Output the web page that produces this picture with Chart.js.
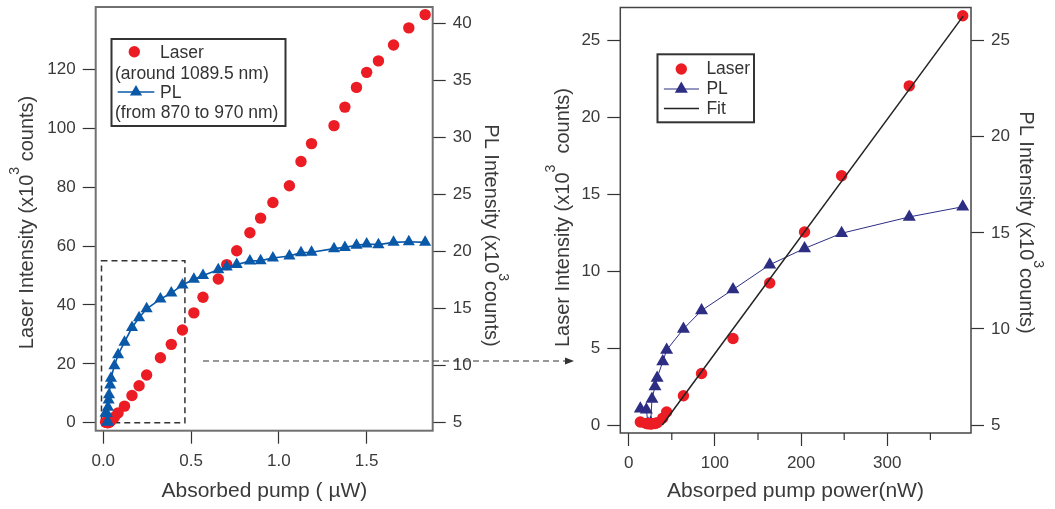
<!DOCTYPE html>
<html>
<head>
<meta charset="utf-8">
<script src="https://cdn.jsdelivr.net/npm/chart.js@4.4.1/dist/chart.umd.min.js"></script>
<style>
  html, body { margin: 0; padding: 0; background: #fff; }
  #wrap { position: relative; width: 1055px; height: 509px; overflow: hidden; }
  #left { position: absolute; left: 0; top: 0; }
  #right { position: absolute; left: 530px; top: 0; }
  #overlay { position: absolute; left: 0; top: 0; pointer-events: none; }
  #overlay text { font-family: "Liberation Sans", Arial, sans-serif; font-size: 17.5px; fill: #333; }
</style>
</head>
<body>
<div id="wrap">
  <canvas id="left" width="530" height="509"></canvas>
  <canvas id="right" width="525" height="509"></canvas>
  <svg id="overlay" width="1055" height="509">
    <!-- left legend -->
    <rect x="111.5" y="39" width="174" height="87" fill="#fff" stroke="#333" stroke-width="2"/>
    <circle cx="134.3" cy="51.7" r="5.7" fill="#ec1c24"/>
    <text x="160" y="58">Laser</text>
    <text x="115" y="78.5">(around 1089.5 nm)</text>
    <line x1="117.7" y1="92" x2="154.3" y2="92" stroke="#0a58a8" stroke-width="1.5"/>
    <polygon points="136,85 142.1,95.5 129.9,95.5" fill="#0a58a8"/>
    <text x="160" y="98">PL</text>
    <text x="115" y="118">(from 870 to 970 nm)</text>
    <!-- right legend -->
    <rect x="657.5" y="54.3" width="96.5" height="68" fill="#fff" stroke="#333" stroke-width="2"/>
    <circle cx="681.3" cy="69" r="5.7" fill="#ec1c24"/>
    <text x="706.4" y="74">Laser</text>
    <line x1="663.9" y1="89" x2="699" y2="89" stroke="#2d2e83" stroke-width="1"/>
    <polygon points="681.3,81.5 687.8,92.75 674.8,92.75" fill="#2d2e83"/>
    <text x="706.4" y="94">PL</text>
    <line x1="663.9" y1="108.5" x2="699" y2="108.5" stroke="#222" stroke-width="1.5"/>
    <text x="706.4" y="114">Fit</text>
    <!-- zoom arrow between the panels -->
    <line x1="203" y1="361" x2="566" y2="361" stroke="#333" stroke-width="1.2" stroke-dasharray="6 4"/>
    <polygon points="565,357.5 574,361 565,364.5" fill="#333"/>
  </svg>
</div>
<script>
// low-power part of the run, right panel (pump in nW, intensities in 10^3 counts)
const lowPump  = [13.5, 20.5, 22.5, 25.5, 27, 30.5, 33, 39.5, 44, 63.5, 84.5, 121, 163.6, 204, 247, 325.5, 387.5];
const lowLaser = [0.2, 0.1, 0.08, 0.07, 0.08, 0.1, 0.15, 0.45, 0.85, 1.9, 3.35, 5.63, 9.24, 12.56, 16.21, 22.06, 26.62];
const lowPL    = [5.85, 5.8, 5.05, 5.1, 6.35, 7.0, 7.45, 8.3, 8.9, 10.0, 10.96, 12.05, 13.34, 14.19, 14.98, 15.83, 16.36];

// rest of the run, left panel only (pump in µW)
const highPump  = [0.451, 0.516, 0.568, 0.655, 0.703, 0.76, 0.835, 0.896, 0.966, 1.06, 1.126, 1.186, 1.314, 1.376, 1.442, 1.5, 1.567, 1.653, 1.74, 1.833];
const highLaser = [31.5, 37.3, 42.6, 48.8, 53.7, 58.4, 64.5, 69.5, 74.8, 80.5, 88.7, 94.8, 100.9, 107.2, 113.9, 119.0, 122.9, 128.3, 134.1, 138.6];
const highPL    = [17.07, 17.57, 17.89, 18.41, 18.64, 18.85, 19.17, 19.2, 19.43, 19.6, 19.9, 19.93, 20.25, 20.36, 20.54, 20.65, 20.6, 20.8, 20.86, 20.8];

// linear fit above threshold (right panel)
const fitPump  = [39, 388];
const fitLaser = [0, 26.6];

// ticks
const leftPumpTicks   = [0, 0.5, 1, 1.5];
const leftPumpLabels  = ['0.0', '0.5', '1.0', '1.5'];
const leftLaserTicks  = [0, 20, 40, 60, 80, 100, 120];
const leftLaserLabels = ['0', '20', '40', '60', '80', '100', '120'];
const leftPLTicks     = [5, 10, 15, 20, 25, 30, 35, 40];
const leftPLLabels    = ['5', '10', '15', '20', '25', '30', '35', '40'];
const rightPumpTicks   = [0, 100, 200, 300];
const rightPumpLabels  = ['0', '100', '200', '300'];
const rightPumpMinor   = [50, 150, 250, 350];
const rightLaserTicks  = [0, 5, 10, 15, 20, 25];
const rightLaserLabels = ['0', '5', '10', '15', '20', '25'];
const rightPLTicks     = [5, 10, 15, 20, 25];
const rightPLLabels    = ['5', '10', '15', '20', '25'];

// region of the left panel that the right panel enlarges
const zoomBoxPump  = [-0.01, 0.465];
const zoomBoxLaser = [0, 55];

const FONT = '"Liberation Sans", Arial, sans-serif';
const TEXT = '#3a3a3a';
const RED = '#ec1c24';
const BLUE = '#0a58a8';
const NAVY = '#2d2e83';

Chart.defaults.font.family = FONT;

const pts = (xs, ys, k) => xs.map((x, i) => ({ x: x * (k || 1), y: ys[i] }));

// axis with fixed ticks and a fixed box size, so the plot frame lands where it should
function axis(pos, min, max, tickVals, labels, size) {
    return {
        type: 'linear', position: pos, min: min, max: max, bounds: 'data',
        afterBuildTicks: s => { s.ticks = tickVals.map(v => ({ value: v })); },
        afterFit: s => {
            if (s.isHorizontal()) s.height = size; else s.width = size;
            s.paddingTop = s.paddingBottom = s.paddingLeft = s.paddingRight = 0;
        },
        border: { display: false },
        grid: { drawOnChartArea: false, tickLength: 13, tickColor: '#333', tickWidth: 1.2 },
        ticks: {
            padding: 7, color: TEXT, font: { size: 17 }, maxRotation: 0, autoSkip: false,
            callback: (v, i) => labels[i]
        }
    };
}

function drawTitle(ctx, t) {
    ctx.save();
    ctx.translate(t.x, t.y);
    ctx.rotate(t.rot);
    ctx.fillStyle = TEXT;
    ctx.textAlign = 'left';
    ctx.textBaseline = 'alphabetic';
    const parts = t.parts.map(p => {
        const sup = p.charAt(0) === '^';
        const size = sup ? 14 : t.size;
        const text = sup ? p.slice(1) : p;
        ctx.font = size + 'px ' + FONT;
        return { text, sup, size, w: ctx.measureText(text).width };
    });
    let x = -parts.reduce((a, p) => a + p.w, 0) / 2;
    parts.forEach(p => {
        ctx.font = p.size + 'px ' + FONT;
        ctx.fillText(p.text, x, p.sup ? -14 : 0);
        x += p.w;
    });
    ctx.restore();
}

// frame, dashed zoom box, minor ticks and axis titles
const decor = {
    id: 'decor',
    beforeDatasetsDraw(chart, args, o) {
        if (!o.box) return;
        const { ctx, scales } = chart;
        const x0 = scales.x.getPixelForValue(o.box[0][0]);
        const x1 = scales.x.getPixelForValue(o.box[0][1]);
        const y0 = scales.y.getPixelForValue(o.box[1][0]);
        const y1 = scales.y.getPixelForValue(o.box[1][1]);
        ctx.save();
        ctx.strokeStyle = '#333';
        ctx.lineWidth = 1.5;
        ctx.setLineDash([6, 4]);
        ctx.strokeRect(x0, y1, x1 - x0, y0 - y1);
        ctx.restore();
    },
    afterDraw(chart, args, o) {
        const { ctx, chartArea: a, scales } = chart;
        ctx.save();
        ctx.strokeStyle = o.frameColor;
        ctx.lineWidth = o.frameWidth;
        ctx.strokeRect(a.left, a.top, a.right - a.left, a.bottom - a.top);
        if (o.minor) {
            ctx.strokeStyle = '#333';
            ctx.lineWidth = 1.2;
            ctx.beginPath();
            o.minor.forEach(v => {
                const px = scales.x.getPixelForValue(v);
                ctx.moveTo(px, a.bottom);
                ctx.lineTo(px, a.bottom + 7);
            });
            ctx.stroke();
        }
        ctx.restore();
        (o.titles || []).forEach(t => drawTitle(ctx, t));
    }
};

const common = {
    responsive: false, animation: false, devicePixelRatio: 1, events: [],
    layout: { padding: { top: 5.7, left: 0, right: 0, bottom: 0 } }
};

// ---------------- left panel ----------------
const leftLaser = pts(lowPump, lowLaser, 0.001).concat(pts(highPump, highLaser));
const leftPL = pts(lowPump, lowPL, 0.001).concat(pts(highPump, highPL));

new Chart(document.getElementById('left'), {
    type: 'scatter',
    data: {
        datasets: [
            { label: 'PL', data: leftPL, yAxisID: 'y2', showLine: true, borderColor: BLUE, borderWidth: 1.6,
              pointStyle: 'triangle', pointRadius: 7, pointBackgroundColor: BLUE, pointBorderWidth: 0, clip: false },
            { label: 'Laser', data: leftLaser, yAxisID: 'y',
              pointStyle: 'circle', pointRadius: 5.7, pointBackgroundColor: RED, pointBorderWidth: 0, clip: false }
        ]
    },
    options: Object.assign({}, common, {
        scales: {
            x: axis('bottom', -0.043, 1.876, leftPumpTicks, leftPumpLabels, 78.3),
            y: axis('left', -2.71, 141.2, leftLaserTicks, leftLaserLabels, 95.7),
            y2: axis('right', 4.30, 41.42, leftPLTicks, leftPLLabels, 97.3)
        },
        plugins: {
            legend: { display: false }, tooltip: { enabled: false },
            decor: {
                frameColor: '#707070', frameWidth: 2,
                box: [zoomBoxPump, zoomBoxLaser],
                titles: [
                    { parts: ['Absorbed pump ( µW)'], x: 264.4, y: 496.5, rot: 0, size: 21 },
                    { parts: ['Laser Intensity (x10', '^3', ' counts)'], x: 33, y: 222.5, rot: -Math.PI / 2, size: 20 },
                    { parts: ['PL Intensity (x10', '^3', 'counts)'], x: 485, y: 235.5, rot: Math.PI / 2, size: 20 }
                ]
            }
        }
    }),
    plugins: [decor]
});

// ---------------- right panel ----------------
new Chart(document.getElementById('right'), {
    type: 'scatter',
    data: {
        datasets: [
            { label: 'Fit', data: pts(fitPump, fitLaser), yAxisID: 'y', showLine: true,
              borderColor: '#222', borderWidth: 1.5, pointRadius: 0, clip: false },
            { label: 'Laser', data: pts(lowPump, lowLaser), yAxisID: 'y',
              pointStyle: 'circle', pointRadius: 5.7, pointBackgroundColor: RED, pointBorderWidth: 0, clip: false },
            { label: 'PL', data: pts(lowPump, lowPL), yAxisID: 'y2', showLine: true, borderColor: NAVY, borderWidth: 1,
              pointStyle: 'triangle', pointRadius: 7.5, pointBackgroundColor: NAVY, pointBorderWidth: 0, clip: false }
        ]
    },
    options: Object.assign({}, common, {
        scales: {
            x: axis('bottom', -9.74, 397.1, rightPumpTicks, rightPumpLabels, 76),
            y: axis('left', -0.52, 27.16, rightLaserTicks, rightLaserLabels, 90.3),
            y2: axis('right', 4.585, 26.73, rightPLTicks, rightPLLabels, 84)
        },
        plugins: {
            legend: { display: false }, tooltip: { enabled: false },
            decor: {
                frameColor: '#444', frameWidth: 1.5,
                minor: rightPumpMinor,
                titles: [
                    { parts: ['Absorped pump power(nW)'], x: 265.5, y: 496.5, rot: 0, size: 21 },
                    { parts: ['Laser Intensity (x10', '^3', '  counts)'], x: 39.4, y: 217.5, rot: -Math.PI / 2, size: 20 },
                    { parts: ['PL Intensity (x10', '^3', 'counts)'], x: 489.5, y: 222.5, rot: Math.PI / 2, size: 20 }
                ]
            }
        }
    }),
    plugins: [decor]
});
</script>
</body>
</html>
